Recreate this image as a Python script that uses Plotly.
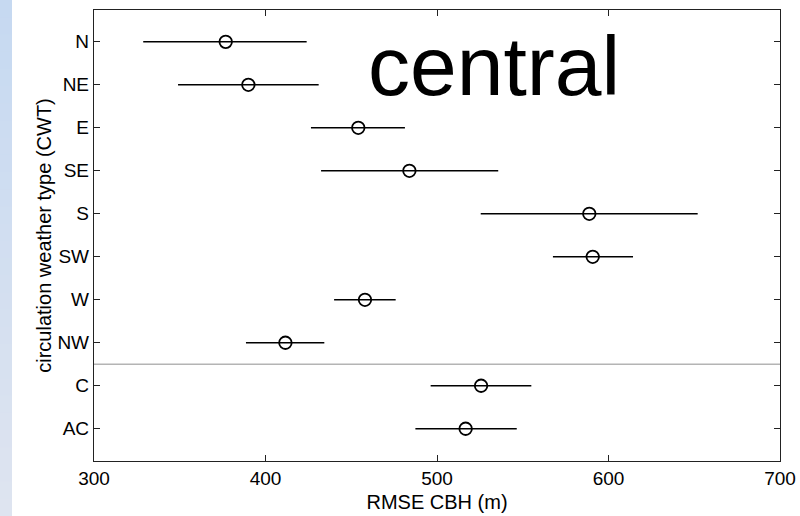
import plotly.graph_objects as go

# Data
categories = ["N", "NE", "E", "SE", "S", "SW", "W", "NW", "C", "AC"]
rmse_mean = [376.8, 390.0, 454.1, 483.9, 588.8, 590.8, 458.0, 411.6, 525.7, 516.7]
rmse_low = [328.7, 349.0, 426.5, 432.4, 525.5, 567.6, 440.0, 388.6, 496.3, 487.4]
rmse_high = [424.0, 431.0, 481.3, 535.7, 652.0, 614.3, 475.9, 434.3, 555.0, 546.5]
x_ticks = [300, 400, 500, 600, 700]
panel_label = "central"

positions = list(range(1, len(categories) + 1))
err_plus = [h - m for h, m in zip(rmse_high, rmse_mean)]
err_minus = [m - l for m, l in zip(rmse_mean, rmse_low)]

FONT = "Liberation Sans, Arial, Helvetica, sans-serif"

fig = go.Figure()
fig.add_trace(go.Scatter(
    x=rmse_mean, y=positions, mode="markers",
    marker=dict(symbol="circle-open", size=12.5, color="black",
                line=dict(width=1.8, color="black")),
    error_x=dict(type="data", symmetric=False, array=err_plus,
                 arrayminus=err_minus, width=0, thickness=1.4, color="black"),
    showlegend=False, hoverinfo="skip",
))

# separator between directional and C/AC types
fig.add_shape(type="line", xref="paper", yref="y", x0=0, x1=1, y0=8.5, y1=8.5,
              line=dict(color="#b4b4b4", width=1.5), layer="below")

# left decorative gradient strip
W, H = 800, 516
ml, mr, mt, mb = 94, 20, 10, 55
pw, ph = W - ml - mr, H - mt - mb
n_bands = 30
c_top = (198, 217, 241)
c_bot = (222, 228, 240)
for i in range(n_bands):
    t = i / (n_bands - 1)
    col = tuple(round(a + (b - a) * t) for a, b in zip(c_top, c_bot))
    py0 = H * i / n_bands
    py1 = H * (i + 1) / n_bands + 1
    fig.add_shape(type="rect", xref="paper", yref="paper",
                  x0=(0 - ml) / pw, x1=(12 - ml) / pw,
                  y0=(H - mb - py1) / ph, y1=(H - mb - py0) / ph,
                  fillcolor="rgb(%d,%d,%d)" % col, line=dict(width=0), layer="below")

fig.add_annotation(text=panel_label, x=533, y=1.57, xref="x", yref="y",
                   showarrow=False, xanchor="center", yanchor="middle",
                   font=dict(family=FONT, size=84, color="black"))

fig.update_xaxes(
    range=[300, 700], tickvals=x_ticks, ticktext=[str(v) for v in x_ticks],
    ticks="inside", ticklen=6, tickwidth=1, tickcolor="#222",
    showline=True, linecolor="#222", linewidth=1.3, mirror="ticks",
    showgrid=False, zeroline=False, automargin=False,
    title=dict(text="RMSE CBH (m)", font=dict(family=FONT, size=20, color="black"), standoff=7),
    tickfont=dict(family=FONT, size=19, color="black"),
)
fig.update_yaxes(
    range=[10.75, 0.26], tickvals=positions, ticktext=categories,
    ticks="inside", ticklen=6, tickwidth=1, tickcolor="#222",
    showline=True, linecolor="#222", linewidth=1.3, mirror="ticks",
    showgrid=False, zeroline=False, automargin=False,
    title=dict(text="circulation weather type (CWT)", font=dict(family=FONT, size=20, color="black"), standoff=0),
    tickfont=dict(family=FONT, size=19, color="black"),
)

fig.update_layout(
    width=W, height=H,
    margin=dict(l=ml, r=mr, t=mt, b=mb, pad=0, autoexpand=False),
    paper_bgcolor="white", plot_bgcolor="white",
    font=dict(family=FONT, color="black"),
)

fig.write_html("out.html")
